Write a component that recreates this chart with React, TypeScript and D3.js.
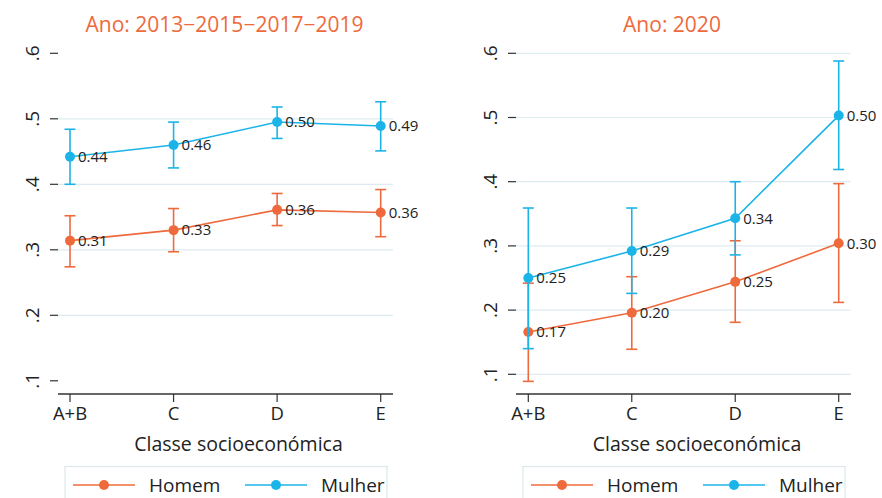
import React from "react";
import * as d3 from "d3";

const categories = ["A+B", "C", "D", "E"];
const yTicks = [0.1, 0.2, 0.3, 0.4, 0.5, 0.6];
const yTickLabels = [".1", ".2", ".3", ".4", ".5", ".6"];
const seriesNames = ["Homem", "Mulher"];

// Panel 1: Ano 2013-2015-2017-2019
const p1Homem = [0.314, 0.33, 0.361, 0.357];
const p1HomemLo = [0.274, 0.297, 0.337, 0.32];
const p1HomemHi = [0.352, 0.363, 0.386, 0.392];
const p1HomemLbl = ["0.31", "0.33", "0.36", "0.36"];
const p1Mulher = [0.442, 0.46, 0.495, 0.489];
const p1MulherLo = [0.4, 0.425, 0.47, 0.451];
const p1MulherHi = [0.484, 0.495, 0.518, 0.526];
const p1MulherLbl = ["0.44", "0.46", "0.50", "0.49"];

// Panel 2: Ano 2020
const p2Homem = [0.166, 0.196, 0.244, 0.304];
const p2HomemLo = [0.089, 0.139, 0.181, 0.212];
const p2HomemHi = [0.242, 0.252, 0.308, 0.397];
const p2HomemLbl = ["0.17", "0.20", "0.25", "0.30"];
const p2Mulher = [0.25, 0.292, 0.343, 0.503];
const p2MulherLo = [0.14, 0.226, 0.286, 0.419];
const p2MulherHi = [0.359, 0.359, 0.4, 0.588];
const p2MulherLbl = ["0.25", "0.29", "0.34", "0.50"];

const ORANGE = "#EE6A3C";
const BLUE = "#1BB4E8";
const GRID = "#DDECF0";
const FONT = "'Open Sans', 'Noto Sans', sans-serif";

type Series = { v: number[]; lo: number[]; hi: number[]; lbl: string[]; color: string };

type PanelCfg = {
  title: string;
  titleX: number;
  xRange: [number, number];
  axisX: [number, number];
  yTop: number;
  yBottom: number;
  gridFrom: number;
  xTitleX: number;
  legendX: number;
  series: Series[];
};

const panels: PanelCfg[] = [
  {
    title: "Ano: 2013−2015−2017−2019",
    titleX: 224.5,
    xRange: [70, 380.7],
    axisX: [58, 393],
    yTop: 53.3,
    yBottom: 380.8,
    gridFrom: 1,
    xTitleX: 238.5,
    legendX: 65,
    series: [
      { v: p1Homem, lo: p1HomemLo, hi: p1HomemHi, lbl: p1HomemLbl, color: ORANGE },
      { v: p1Mulher, lo: p1MulherLo, hi: p1MulherHi, lbl: p1MulherLbl, color: BLUE },
    ],
  },
  {
    title: "Ano: 2020",
    titleX: 672,
    xRange: [528.3, 838.7],
    axisX: [516, 851],
    yTop: 53.3,
    yBottom: 374.3,
    gridFrom: 0,
    xTitleX: 697,
    legendX: 523,
    series: [
      { v: p2Homem, lo: p2HomemLo, hi: p2HomemHi, lbl: p2HomemLbl, color: ORANGE },
      { v: p2Mulher, lo: p2MulherLo, hi: p2MulherHi, lbl: p2MulherLbl, color: BLUE },
    ],
  },
];

const AXIS_Y = 394;

function Panel({ cfg }: { cfg: PanelCfg }) {
  const x = d3.scalePoint<string>().domain(categories).range(cfg.xRange);
  const y = d3.scaleLinear().domain([0.1, 0.6]).range([cfg.yBottom, cfg.yTop]);
  const line = d3
    .line<number>()
    .x((_, i) => x(categories[i]) as number)
    .y((d) => y(d));
  const gridTicks = cfg.gridFrom === 1 ? yTicks.slice(1, yTicks.length - 1) : yTicks;
  const tickX0 = cfg.axisX[0] - 8;
  const lg = cfg.legendX;
  return (
    <g>
      <text x={cfg.titleX} y={32} textAnchor="middle" fill={ORANGE} fontSize={21} fontFamily={FONT}>
        {cfg.title}
      </text>
      {gridTicks.map((t) => (
        <line key={"g" + t} x1={cfg.axisX[0]} x2={cfg.axisX[1]} y1={y(t)} y2={y(t)} stroke={GRID} strokeWidth={1.2} />
      ))}
      {yTicks.map((t, i) => (
        <g key={"yt" + t}>
          <line x1={tickX0} x2={cfg.axisX[0]} y1={y(t)} y2={y(t)} stroke="#333" strokeWidth={1.2} />
          <text
            transform={`translate(${tickX0 - 11},${y(t)}) rotate(-90)`}
            textAnchor="middle"
            fontSize={19}
            fontFamily={FONT}
            fill="#222"
          >
            {yTickLabels[i]}
          </text>
        </g>
      ))}
      <line x1={cfg.axisX[0]} x2={cfg.axisX[1]} y1={AXIS_Y} y2={AXIS_Y} stroke="#333" strokeWidth={1.4} />
      {categories.map((c) => (
        <g key={"xt" + c}>
          <line x1={x(c)} x2={x(c)} y1={AXIS_Y} y2={AXIS_Y + 8} stroke="#333" strokeWidth={1.2} />
          <text x={x(c)} y={420} textAnchor="middle" fontSize={18.5} fontFamily={FONT} fill="#222">
            {c}
          </text>
        </g>
      ))}
      <text x={cfg.xTitleX} y={451} textAnchor="middle" fontSize={19.5} fontFamily={FONT} fill="#222">
        Classe socioeconómica
      </text>
      {cfg.series.map((s, si) => (
        <g key={"s" + si}>
          {s.v.map((_, i) => {
            const cx = x(categories[i]) as number;
            return (
              <g key={"e" + i} stroke={s.color} strokeWidth={1.6}>
                <line x1={cx} x2={cx} y1={y(s.lo[i])} y2={y(s.hi[i])} />
                <line x1={cx - 5.5} x2={cx + 5.5} y1={y(s.lo[i])} y2={y(s.lo[i])} />
                <line x1={cx - 5.5} x2={cx + 5.5} y1={y(s.hi[i])} y2={y(s.hi[i])} />
              </g>
            );
          })}
          <path d={line(s.v) || ""} fill="none" stroke={s.color} strokeWidth={1.6} />
          {s.v.map((v, i) => (
            <circle key={"c" + i} cx={x(categories[i])} cy={y(v)} r={5} fill={s.color} />
          ))}
          {s.v.map((v, i) => (
            <text
              key={"l" + i}
              x={(x(categories[i]) as number) + 8}
              y={y(v)}
              dy="0.35em"
              fontSize={15}
              fontFamily={FONT}
              fill="#222"
            >
              {s.lbl[i]}
            </text>
          ))}
        </g>
      ))}
      <rect x={lg} y={466.5} width={322} height={50} fill="none" stroke="#DCE8EC" strokeWidth={1.2} />
      {seriesNames.map((n, i) => {
        const off = i === 0 ? 0 : 172;
        const color = i === 0 ? ORANGE : BLUE;
        return (
          <g key={"lg" + n}>
            <line x1={lg + 8 + off} x2={lg + 70 + off} y1={485} y2={485} stroke={color} strokeWidth={1.6} />
            <circle cx={lg + 39 + off} cy={485} r={5} fill={color} />
            <text x={lg + 84 + off} y={492} fontSize={19} fontFamily={FONT} fill="#222">
              {n}
            </text>
          </g>
        );
      })}
    </g>
  );
}

export default function App() {
  return (
    <svg
      width={882}
      height={498}
      style={{ position: "absolute", left: 0, top: 0, background: "#fff" }}
    >
      <rect width={882} height={498} fill="#fff" />
      {panels.map((p, i) => (
        <Panel key={i} cfg={p} />
      ))}
    </svg>
  );
}
